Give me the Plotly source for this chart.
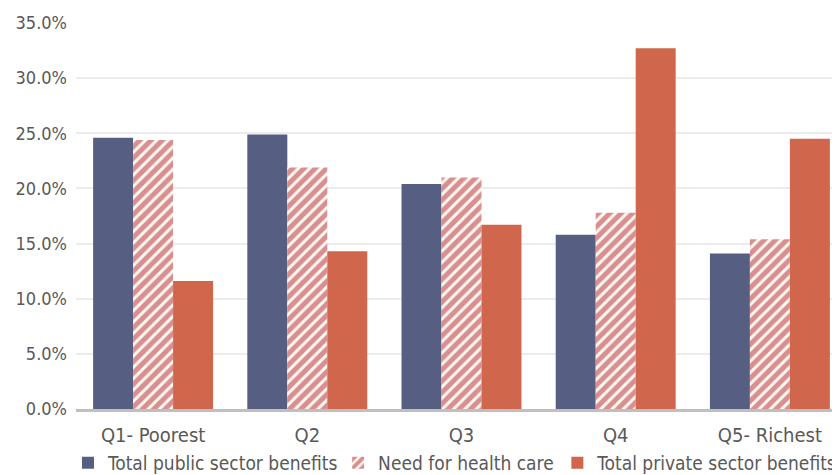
import plotly.graph_objects as go

categories = ["Q1- Poorest", "Q2", "Q3", "Q4", "Q5- Richest"]
public_benefits = [24.6, 24.9, 20.4, 15.8, 14.1]
need_for_care = [24.4, 21.9, 21.0, 17.8, 15.4]
private_benefits = [11.6, 14.3, 16.7, 32.7, 24.5]
tick_vals = [0, 5, 10, 15, 20, 25, 30, 35]
tick_text = ["0.0%", "5.0%", "10.0%", "15.0%", "20.0%", "25.0%", "30.0%", "35.0%"]

FONT = "Liberation Sans Narrow, DejaVu Sans Condensed, Lato"

fig = go.Figure()
fig.add_trace(go.Bar(x=categories, y=public_benefits, name="Total public sector benefits",
                     marker=dict(color="#565f82", line=dict(width=0)), legend="legend",
                     showlegend=True))
fig.add_trace(go.Bar(x=categories, y=need_for_care, name="Need for health care",
                     marker=dict(color="#fbf8f2", line=dict(width=0),
                                 pattern=dict(shape="/", fgcolor="#b8232c", bgcolor="#fbf8f2",
                                              size=8, solidity=0.62)), legend="legend2",
                     showlegend=True))
fig.add_trace(go.Bar(x=categories, y=private_benefits, name="Total private sector benefits",
                     marker=dict(color="#d0664c", line=dict(width=0)), legend="legend3",
                     showlegend=True))

leg_common = dict(orientation="h", xref="container", yref="container",
                  y=0.026, yanchor="middle", xanchor="left",
                  font=dict(family=FONT, size=19, color="#595959"),
                  itemwidth=30, bgcolor="rgba(0,0,0,0)")

fig.update_layout(
    width=840, height=467,
    showlegend=True,
    margin=dict(l=68, r=1, t=15, b=66),
    paper_bgcolor="white", plot_bgcolor="white",
    barmode="group", bargap=0.222, bargroupgap=0,
    font=dict(family=FONT, size=19, color="#595959"),
    legend=dict(x=0.0714, **leg_common),
    legend2=dict(x=0.393, **leg_common),
    legend3=dict(x=0.654, **leg_common),
    xaxis=dict(showgrid=False, showline=True, linecolor="#bfbfbf", linewidth=3,
               ticks="", automargin=False, ticklabelstandoff=6,
               tickfont=dict(size=20, color="#595959")),
    yaxis=dict(range=[0, 35], tickvals=tick_vals, ticktext=tick_text,
               showgrid=True, gridcolor="#ececec", gridwidth=1.5, zeroline=False,
               showline=False, ticks="", automargin=False, ticklabelstandoff=8,
               tickfont=dict(size=18, color="#595959")),
)

fig.write_html("out.html")
